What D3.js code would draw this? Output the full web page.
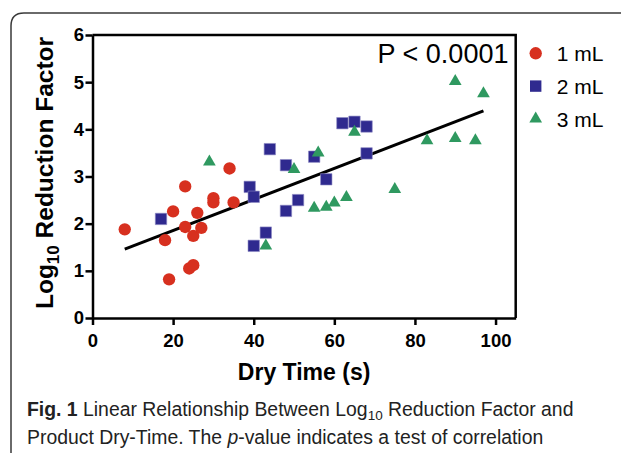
<!DOCTYPE html>
<html>
<head>
<meta charset="utf-8">
<script src="https://cdn.jsdelivr.net/npm/d3@7"></script>
<style>
  body { margin: 0; background: #fff; }
  svg { display: block; font-family: "Liberation Sans", Arial, sans-serif; }
</style>
</head>
<body>
<svg id="chart"></svg>
<script>
// dry time (s) and log10 reduction factor, one pair of arrays per volume
const dryTime1 = [8, 18, 20, 19, 23, 23, 26, 25, 27, 24, 25, 30, 30, 35, 34];
const logRF1 = [1.88, 1.65, 2.26, 0.82, 2.79, 1.93, 2.23, 1.74, 1.91, 1.05, 1.12, 2.54, 2.45, 2.45, 3.17];
const dryTime2 = [17, 39, 40, 44, 48, 55, 58, 51, 48, 43, 40, 62, 65, 68, 68];
const logRF2 = [2.10, 2.78, 2.57, 3.58, 3.24, 3.42, 2.94, 2.50, 2.27, 1.81, 1.53, 4.13, 4.16, 4.06, 3.49];
const dryTime3 = [29, 43, 50, 55, 56, 58, 60, 63, 65, 75, 83, 90, 90, 95, 97];
const logRF3 = [3.31, 1.53, 3.15, 2.33, 3.50, 2.35, 2.44, 2.56, 3.94, 2.73, 3.76, 5.02, 3.81, 3.76, 4.76];

const seriesNames = ['1 mL', '2 mL', '3 mL'];
const seriesColors = ['#d7301f', '#2f2a8f', '#2f9960'];

// linear fit, end points
const fitX = [8, 97];
const fitY = [1.46, 4.39];

const xTicks = [0, 20, 40, 60, 80, 100];
const yTicks = [0, 1, 2, 3, 4, 5, 6];
const pLabel = 'P < 0.0001';

class ScatterChart {

  constructor(_config) {
    this.config = {
      parentElement: _config.parentElement,
      containerWidth: _config.containerWidth || 621,
      containerHeight: _config.containerHeight || 453,
      margin: { top: 35, bottom: 135, right: 105.3, left: 92.5 }
    }
    this.initVis();
  }

  initVis() {
    let vis = this;

    vis.width = vis.config.containerWidth - vis.config.margin.left - vis.config.margin.right;
    vis.height = vis.config.containerHeight - vis.config.margin.top - vis.config.margin.bottom;

    vis.svg = d3.select(vis.config.parentElement)
        .attr('width', vis.config.containerWidth)
        .attr('height', vis.config.containerHeight);

    // figure frame with rounded top-left corner
    vis.svg.append('path')
        .attr('d', 'M11,453 L11,26 Q11,13 24,13 L621,13')
        .attr('fill', 'none')
        .attr('stroke', '#3a3a3a')
        .attr('stroke-width', 1.5);

    vis.chart = vis.svg.append('g')
        .attr('transform', `translate(${vis.config.margin.left},${vis.config.margin.top})`);

    vis.xScale = d3.scaleLinear().domain([0, 105]).range([0, vis.width]);
    vis.yScale = d3.scaleLinear().domain([0, 6]).range([vis.height, 0]);

    // box top and right
    vis.chart.append('path')
        .attr('d', `M0,0 H${vis.width} V${vis.height}`)
        .attr('fill', 'none')
        .attr('stroke', '#000')
        .attr('stroke-width', 2.5);

    vis.xAxis = d3.axisBottom(vis.xScale).tickValues(xTicks).tickFormat(d3.format('d'))
        .tickSize(7).tickSizeOuter(0).tickPadding(9);
    vis.yAxis = d3.axisLeft(vis.yScale).tickValues(yTicks).tickFormat(d3.format('d'))
        .tickSize(7).tickSizeOuter(0).tickPadding(1.5);

    vis.xAxisG = vis.chart.append('g')
        .attr('transform', `translate(0,${vis.height})`)
        .call(vis.xAxis);
    vis.yAxisG = vis.chart.append('g')
        .call(vis.yAxis);

    [vis.xAxisG, vis.yAxisG].forEach(g => {
      g.selectAll('path, line').attr('stroke', '#000').attr('stroke-width', 2.5);
      g.selectAll('text')
          .attr('fill', '#000')
          .style('font-size', '18.5px')
          .style('font-weight', 'bold');
    });

    // regression line
    vis.chart.append('line')
        .attr('x1', vis.xScale(fitX[0]))
        .attr('y1', vis.yScale(fitY[0]))
        .attr('x2', vis.xScale(fitX[1]))
        .attr('y2', vis.yScale(fitY[1]))
        .attr('stroke', '#000')
        .attr('stroke-width', 3);

    // points
    const series = [
      { xs: dryTime1, ys: logRF1, symbol: d3.symbolCircle, size: 120 },
      { xs: dryTime2, ys: logRF2, symbol: d3.symbolSquare, size: 130 },
      { xs: dryTime3, ys: logRF3, symbol: d3.symbolTriangle, size: 70 }
    ];
    series.forEach((s, i) => {
      vis.chart.append('g').selectAll('path')
        .data(s.xs.map((x, j) => ({ x: x, y: s.ys[j] })))
        .enter()
        .append('path')
          .attr('d', d3.symbol().type(s.symbol).size(s.size))
          .attr('transform', d => `translate(${vis.xScale(d.x)},${vis.yScale(d.y)})`)
          .attr('fill', seriesColors[i])
          .attr('stroke', i === 1 ? '#8f8cc4' : 'none')
          .attr('stroke-width', 0.6);
    });

    // p-value
    vis.chart.append('text')
        .attr('x', vis.xScale(103.2))
        .attr('y', 28)
        .attr('text-anchor', 'end')
        .style('font-size', '27px')
        .text(pLabel);

    // legend
    const legend = vis.svg.append('g').attr('transform', 'translate(535.7,53.3)');
    series.forEach((s, i) => {
      const row = legend.append('g').attr('transform', `translate(0,${i * 32.8})`);
      row.append('path')
          .attr('d', d3.symbol().type(s.symbol).size(s.size))
          .attr('fill', seriesColors[i]);
      row.append('text')
          .attr('x', 21)
          .attr('y', 8)
          .style('font-size', '21px')
          .text(seriesNames[i]);
    });

    // axis titles
    vis.chart.append('text')
        .attr('x', vis.width / 2)
        .attr('y', vis.height + 62)
        .attr('text-anchor', 'middle')
        .style('font-size', '23px')
        .style('font-weight', 'bold')
        .text('Dry Time (s)');

    const yLab = vis.svg.append('text')
        .attr('transform', 'rotate(-90)')
        .attr('x', -173)
        .attr('y', 53)
        .attr('text-anchor', 'middle')
        .style('font-size', '24.5px')
        .style('font-weight', 'bold');
    yLab.append('tspan').text('Log');
    yLab.append('tspan').attr('dy', 6).style('font-size', '17px').text('10');
    yLab.append('tspan').attr('dy', -6).text(' Reduction Factor');

    // caption
    const cap1 = vis.svg.append('text')
        .attr('x', 27).attr('y', 416)
        .style('font-size', '19.4px').attr('fill', '#222');
    cap1.append('tspan').style('font-weight', 'bold').text('Fig. 1');
    cap1.append('tspan').text(' Linear Relationship Between Log');
    cap1.append('tspan').attr('dy', 4).style('font-size', '13.5px').text('10');
    cap1.append('tspan').attr('dy', -4).text(' Reduction Factor and');

    const cap2 = vis.svg.append('text')
        .attr('x', 27).attr('y', 444)
        .style('font-size', '19.4px').attr('fill', '#222');
    cap2.append('tspan').text('Product Dry-Time. The ');
    cap2.append('tspan').style('font-style', 'italic').text('p');
    cap2.append('tspan').text('-value indicates a test of correlation');
  }
}

new ScatterChart({ parentElement: '#chart' });
</script>
</body>
</html>
